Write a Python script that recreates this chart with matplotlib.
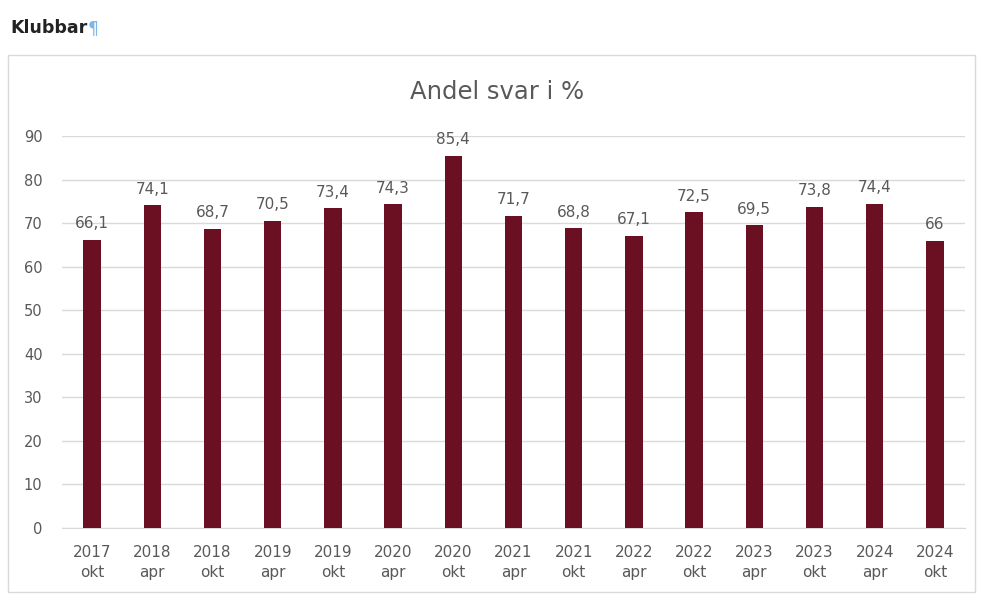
import matplotlib.pyplot as plt
from matplotlib.patches import Rectangle

# data
labels = ['2017\nokt', '2018\napr', '2018\nokt', '2019\napr', '2019\nokt',
          '2020\napr', '2020\nokt', '2021\napr', '2021\nokt', '2022\napr',
          '2022\nokt', '2023\napr', '2023\nokt', '2024\napr', '2024\nokt']
values = [66.1, 74.1, 68.7, 70.5, 73.4, 74.3, 85.4, 71.7, 68.8, 67.1,
          72.5, 69.5, 73.8, 74.4, 66]
value_text = ['66,1', '74,1', '68,7', '70,5', '73,4', '74,3', '85,4', '71,7',
              '68,8', '67,1', '72,5', '69,5', '73,8', '74,4', '66']

plt.rcParams['font.family'] = ['DejaVu Sans']
grey = '#595959'

fig = plt.figure(figsize=(9.85, 5.99), dpi=100)

# frame round the chart like in the document
fig.patches.append(Rectangle((8 / 985, 1 - 592 / 599), 967 / 985, 537 / 599,
                             transform=fig.transFigure, fill=False,
                             edgecolor='#d9d9d9', linewidth=1))
fig.text(10 / 985, 1 - 28 / 599, 'Klubbar', fontsize=12.5, fontweight='bold',
         color='#222222', va='center')
fig.text(88 / 985, 1 - 28 / 599, '¶', fontsize=12.5, color='#7fb8e6',
         va='center')

ax = fig.add_axes([62 / 985, 1 - 528 / 599, 903 / 985, 392 / 599])
x = range(len(values))
ax.bar(x, values, width=0.29, color='#6b0f22', zorder=3)
for i, v in enumerate(values):
    ax.text(i, v + 2.0, value_text[i], ha='center', va='bottom',
            fontsize=11, color=grey)

ax.set_xlim(-0.5, len(values) - 0.5)
ax.set_ylim(0, 90)
ax.set_yticks(range(0, 91, 10))
ax.set_xticks(list(x))
ax.set_xticklabels(labels, fontsize=11, color=grey, linespacing=1.45)
ax.tick_params(axis='y', labelsize=10.5, labelcolor=grey, length=0, pad=14)
ax.tick_params(axis='x', length=0, pad=12)
ax.grid(axis='y', color='#d9d9d9', linewidth=1, zorder=0)
for s in ax.spines.values():
    s.set_visible(False)
ax.spines['bottom'].set_visible(True)
ax.spines['bottom'].set_color('#d9d9d9')

fig.text(497 / 985, 1 - 92 / 599, 'Andel svar i %', fontsize=17.5,
         color=grey, ha='center', va='center')

plt.savefig('out.png')
